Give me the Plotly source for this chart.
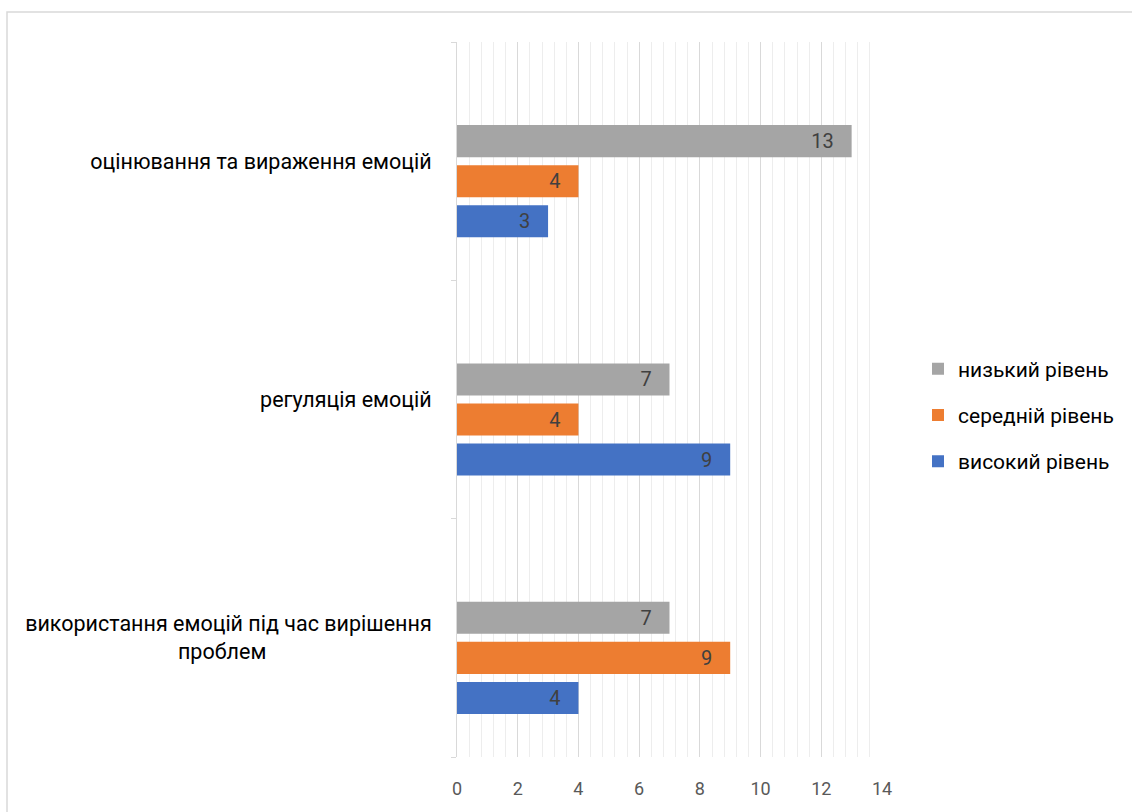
import plotly.graph_objects as go

categories = [
    "використання емоцій під час вирішення<br>проблем" + "\u00a0" * 31,
    "регуляція емоцій",
    "оцінювання та вираження емоцій",
]
series_names = ["низький рівень", "середній рівень", "високий рівень"]
low = [7, 7, 13]
mid = [9, 4, 4]
high = [4, 9, 3]
colors = ["#A5A5A5", "#ED7D31", "#4472C4"]
x_ticks = [0, 2, 4, 6, 8, 10, 12, 14]

FONT = "Roboto"
BAND = 238.0  # px per category
bar_w = 32 / BAND
offsets = [4 / BAND, -36 / BAND, -76 / BAND]

fig = go.Figure()
for name, vals, col, off in zip(series_names, [low, mid, high], colors, offsets):
    fig.add_trace(go.Bar(
        y=categories, x=vals, name=name, orientation="h",
        width=bar_w, offset=off,
        marker=dict(color=col, line=dict(width=0)),
        text=vals, texttemplate="%{x}\u00a0\u00a0\u00a0",
        textposition="inside", insidetextanchor="end",
        textfont=dict(color="#404040", size=20, family=FONT),
        legendgroup=name,
    ))

fig.update_layout(
    width=1132, height=812,
    margin=dict(l=457, r=250, t=42, b=55),
    plot_bgcolor="white", paper_bgcolor="white",
    barmode="overlay",
    font=dict(family=FONT),
    showlegend=True,
    legend=dict(
        xref="container", yref="container",
        x=918 / 1132, xanchor="left", y=1 - 415 / 812, yanchor="middle",
        traceorder="grouped", tracegroupgap=16,
        font=dict(size=21, color="#000000", family=FONT),
        itemwidth=30,
    ),
    xaxis=dict(
        range=[0, 14], tickvals=x_ticks, showgrid=True, gridcolor="#D9D9D9", gridwidth=1,
        minor=dict(dtick=0.4, tick0=0, showgrid=True, gridcolor="#EDEDED", gridwidth=1),
        showline=False, zeroline=False, ticks="",
        tickfont=dict(size=18, color="#595959", family=FONT),
        ticklabelstandoff=19,
    ),
    yaxis=dict(
        range=[-0.5, 2.5],
        showgrid=False, showline=True, linecolor="#D9D9D9", linewidth=1,
        ticks="outside", tickson="boundaries", ticklen=5, tickcolor="#D9D9D9",
        tickfont=dict(size=21.5, color="#000000", family=FONT),
        ticklabelstandoff=20,
    ),
    shapes=[dict(
        type="rect", xref="paper", yref="paper",
        x0=(7 - 457) / 425, x1=(1160 - 457) / 425,
        y0=(757 - 12) / 715, y1=(757 - 840) / 715,
        line=dict(color="#D9D9D9", width=1.5), fillcolor="rgba(0,0,0,0)", layer="below",
    )],
)

fig.write_html("out.html")
